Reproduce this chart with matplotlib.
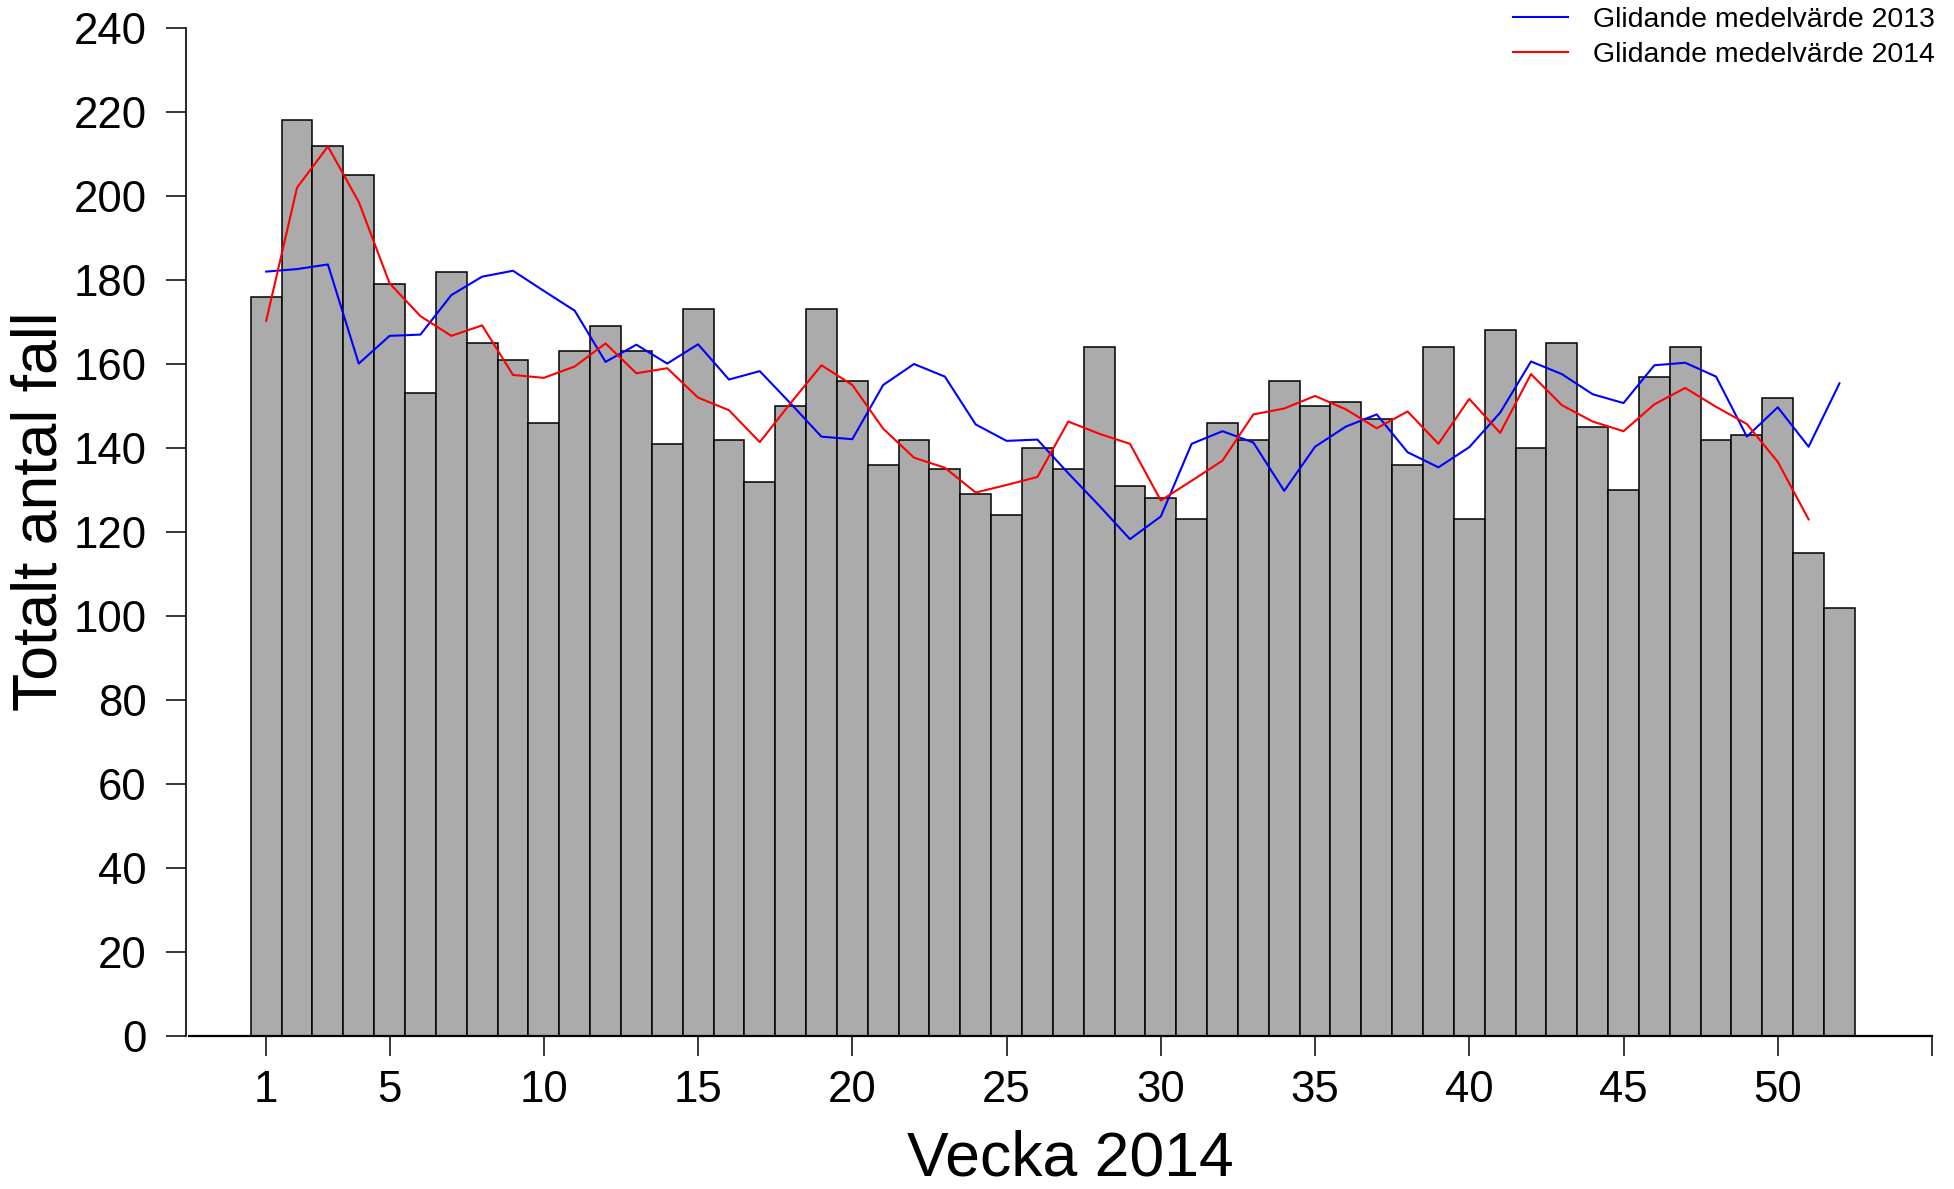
import numpy as np
import matplotlib
matplotlib.use('Agg')
from matplotlib import pyplot as plt

plt.rcParams['font.family'] = ['Liberation Sans', 'DejaVu Sans']

# antal fall per vecka 2014
veckor = np.arange(1, 53)
antal = [176, 218, 212, 205, 179, 153, 182, 165, 161, 146,
         163, 169, 163, 141, 173, 142, 132, 150, 173, 156,
         136, 142, 135, 129, 124, 140, 135, 164, 131, 128,
         123, 146, 142, 156, 150, 151, 147, 136, 164, 123,
         168, 140, 165, 145, 130, 157, 164, 142, 143, 152,
         115, 102]

# glidande medelvärde 2013 (v 1-52)
medel_2013 = [182.0, 182.6, 183.7, 160.1, 166.7, 167.0, 176.4, 180.8, 182.2, 177.4,
              172.7, 160.5, 164.6, 160.1, 164.7, 156.3, 158.3, 150.6, 142.7, 142.1,
              155.0, 160.0, 157.0, 145.6, 141.7, 142.0, 134.0, 126.3, 118.3, 123.7,
              141.0, 144.0, 141.3, 129.8, 140.3, 145.1, 148.0, 139.0, 135.4, 140.2,
              148.4, 160.6, 157.6, 152.8, 150.7, 159.7, 160.3, 157.0, 142.7, 149.7,
              140.3, 155.4]

# glidande medelvärde 2014 (v 1-51)
medel_2014 = [170.3, 202.0, 211.8, 198.6, 179.2, 171.4, 166.7, 169.2, 157.4, 156.7,
              159.4, 164.9, 157.8, 159.0, 152.0, 149.0, 141.4, 150.7, 159.7, 155.0,
              144.6, 137.7, 135.3, 129.4, 131.2, 133.1, 146.3, 143.4, 141.0, 127.5,
              132.2, 137.0, 148.0, 149.4, 152.4, 149.2, 144.7, 148.7, 141.0, 151.7,
              143.6, 157.6, 150.2, 146.3, 144.0, 150.4, 154.3, 149.8, 145.7, 136.7,
              123.0]

x_ticks = [1, 5, 10, 15, 20, 25, 30, 35, 40, 45, 50, 55]
x_ticklabels = ['1', '5', '10', '15', '20', '25', '30', '35', '40', '45', '50', '']
y_ticks = list(range(0, 241, 20))

fig = plt.figure(figsize=(19.54, 11.89), dpi=100)
ax = fig.add_axes([186 / 1954, 1 - 1036 / 1189, (1932 - 186) / 1954, (1036 - 28) / 1189])

ax.bar(veckor, antal, width=1.0, color='#ababab', edgecolor='black', linewidth=1.1, zorder=2)
ax.plot(veckor, medel_2013, color='blue', lw=1.5, label='Glidande medelvärde 2013', zorder=3)
ax.plot(veckor[:len(medel_2014)], medel_2014, color='red', lw=1.5,
        label='Glidande medelvärde 2014', zorder=3)

ax.set_xlim(-1.6, 55)
ax.set_ylim(0, 240)

for s in ['top', 'right']:
    ax.spines[s].set_visible(False)
ax.spines['left'].set_bounds(0, 240)
ax.spines['bottom'].set_bounds(-1.5, 55)
ax.spines['left'].set_linewidth(1.2)
ax.spines['bottom'].set_linewidth(1.6)
ax.spines['bottom'].set_zorder(4)

ax.set_xticks(x_ticks)
ax.set_xticklabels(x_ticklabels)
ax.set_yticks(y_ticks)
ax.tick_params(axis='both', direction='out', length=14.4, width=1.1, labelsize=31.5)
ax.tick_params(axis='y', pad=14)
ax.tick_params(axis='x', pad=10)

fig.text(1070 / 1954, 1 / 1189, 'Vecka 2014', fontsize=45, ha='center', va='bottom')
fig.text(40 / 1954, 1 - 511 / 1189, 'Totalt antal fall', fontsize=45, rotation=90,
         ha='center', va='center')

ax.legend(loc='upper right', bbox_to_anchor=(1935 / 1954, 1 - 7 / 1189),
          bbox_transform=fig.transFigure, frameon=False, fontsize=20.5,
          handlelength=1.9, handletextpad=0.9, labelspacing=0.32, borderpad=0,
          borderaxespad=0)

fig.savefig('out.png', dpi=100)
